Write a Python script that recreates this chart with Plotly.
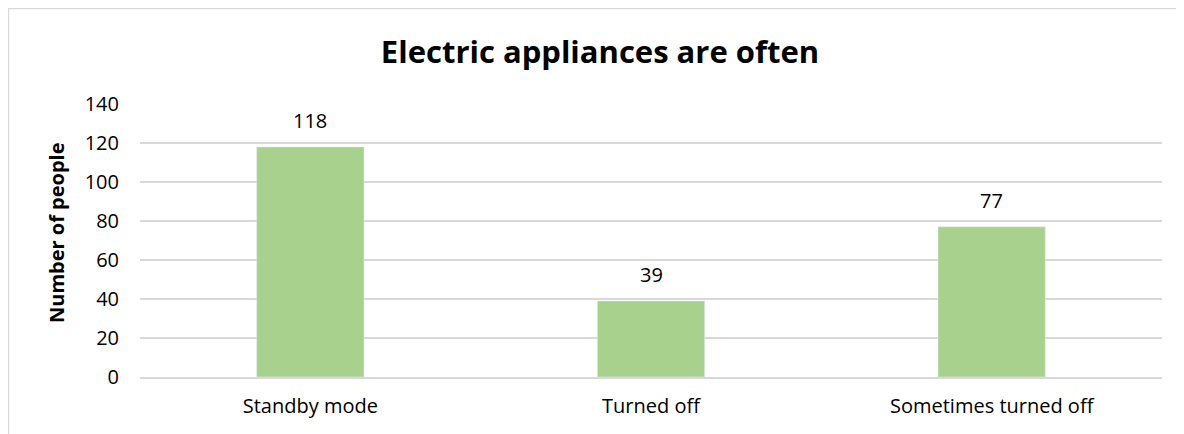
import plotly.graph_objects as go

categories = ["Standby mode", "Turned off", "Sometimes turned off"]
people = [118, 39, 77]

font_family = "Open Sans, Noto Sans, sans-serif"

fig = go.Figure(go.Bar(x=categories, y=people, marker_color="#a9d18e",
                       width=0.315, hoverinfo="x+y"))

# data labels sitting above each bar
for cat, val in zip(categories, people):
    fig.add_annotation(x=cat, y=val, text=str(val), showarrow=False,
                       yanchor="bottom", yshift=11,
                       font=dict(size=20, color="#000000", family=font_family))

# y axis title, placed by hand to sit where the original one does
fig.add_annotation(text="<b>Number of people</b>", xref="paper", yref="paper",
                   x=-0.0822, y=0.531, textangle=-90, showarrow=False,
                   xanchor="center", yanchor="middle",
                   font=dict(size=20, color="#000000", family=font_family))

# chart area border (cut off at the right and bottom, like the screenshot)
fig.add_shape(type="rect", xref="paper", yref="paper",
              x0=-0.1287, x1=1.2, y0=-0.5, y1=1.3498,
              line=dict(color="#d9d9d9", width=1.5), layer="below")

fig.update_layout(
    width=1184, height=434,
    margin=dict(l=132, r=30, t=96, b=65),
    paper_bgcolor="white", plot_bgcolor="white",
    font=dict(family=font_family, size=20, color="#000000"),
    title=dict(text="<b>Electric appliances are often</b>", x=0.5, xref="container",
               y=1 - 44 / 434, yanchor="middle",
               font=dict(size=31, family=font_family, color="#000000")),
    showlegend=False,
    xaxis=dict(showgrid=False, showline=True, linecolor="#d9d9d9", linewidth=1.5,
               ticks="", ticklabelstandoff=10, tickfont=dict(size=20)),
    yaxis=dict(range=[0, 140], dtick=20, showgrid=True, gridcolor="#d9d9d9",
               gridwidth=1.5, zeroline=False, showline=False, ticks="",
               ticklabelstandoff=20, tickfont=dict(size=20)),
)

fig.write_html("out.html")
